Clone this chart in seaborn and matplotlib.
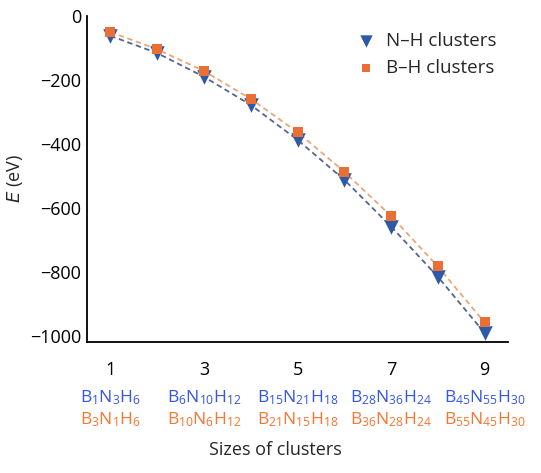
import matplotlib
matplotlib.use("Agg")
import matplotlib.pyplot as plt
import seaborn as sns
import pandas as pd

sizes = [1, 2, 3, 4, 5, 6, 7, 8, 9]
nh_energy = [-62, -116, -190, -278, -387, -512, -658, -815, -991]
bh_energy = [-50, -104, -172, -259, -363, -487, -625, -783, -958]
tick_sizes = [1, 3, 5, 7, 9]
nh_formulas = [r"B$_{1}$N$_{3}$H$_{6}$", r"B$_{6}$N$_{10}$H$_{12}$", r"B$_{15}$N$_{21}$H$_{18}$",
               r"B$_{28}$N$_{36}$H$_{24}$", r"B$_{45}$N$_{55}$H$_{30}$"]
bh_formulas = [r"B$_{3}$N$_{1}$H$_{6}$", r"B$_{10}$N$_{6}$H$_{12}$", r"B$_{21}$N$_{15}$H$_{18}$",
               r"B$_{36}$N$_{28}$H$_{24}$", r"B$_{55}$N$_{45}$H$_{30}$"]

sns.set_style("white")
plt.rcParams['font.family'] = ['Open Sans', 'DejaVu Sans']
plt.rcParams['mathtext.default'] = 'regular'

nh_df = pd.DataFrame({"size": sizes, "E": nh_energy})
bh_df = pd.DataFrame({"size": sizes, "E": bh_energy})

fig = plt.figure(figsize=(5.41, 4.73), dpi=100)
ax = fig.add_axes([87/541, 1 - 342/473, (508-87)/541, (342-16)/473])

nh_col = "#2d5aa8"
bh_col = "#ea6f35"
sns.lineplot(data=nh_df, x="size", y="E", ax=ax,
             color="#55648f", linestyle=(0, (3, 2)), linewidth=1.3, legend=False)
sns.lineplot(data=bh_df, x="size", y="E", ax=ax,
             color="#e8a878", linestyle=(0, (3, 2)), linewidth=1.3, legend=False)
sns.scatterplot(data=nh_df, x="size", y="E", marker="v", color=nh_col, s=110,
                linewidth=0, ax=ax, zorder=3, label="N\u2013H clusters")
sns.scatterplot(data=bh_df, x="size", y="E", marker="s", color=bh_col, s=42,
                linewidth=0, ax=ax, zorder=4, label="B\u2013H clusters")

ax.set_xlim(0.5, 9.5)
ax.set_ylim(-1019, 0)
ax.set_xticks(tick_sizes)
ax.set_yticks([0, -200, -400, -600, -800, -1000])
ax.set_yticklabels(["0", "\u2212200", "\u2212400", "\u2212600", "\u2212800", "\u22121000"])
ax.tick_params(direction="in", length=4, width=1.2, labelsize=13, colors="black")
ax.tick_params(axis="y", pad=4)
ax.tick_params(axis="x", pad=14)
for s in ["top", "right"]:
    ax.spines[s].set_visible(False)
for s in ["left", "bottom"]:
    ax.spines[s].set_linewidth(1.3)
    ax.spines[s].set_color("black")

ax.set_xlabel("")
ax.set_ylabel(r"$\it{E}$ (eV)", fontsize=13, labelpad=4)

trans = ax.get_xaxis_transform()
for x, f1, f2 in zip(tick_sizes, nh_formulas, bh_formulas):
    ax.text(x, (342 - 398) / 326, f1, transform=trans, ha="center", va="center",
            color="#3355e8", fontsize=12.5)
    ax.text(x, (342 - 420) / 326, f2, transform=trans, ha="center", va="center",
            color="#f87530", fontsize=12.5)
fig.text(275/541, 1 - 450/473, "Sizes of clusters", ha="center", va="center", fontsize=13)

leg = ax.legend(loc="upper right", bbox_to_anchor=(1.0, 0.985), frameon=False,
                fontsize=13.5, handletextpad=0.1, labelspacing=0.45, borderaxespad=0.2,
                markerscale=0.85)

fig.savefig("out.png", dpi=100)
